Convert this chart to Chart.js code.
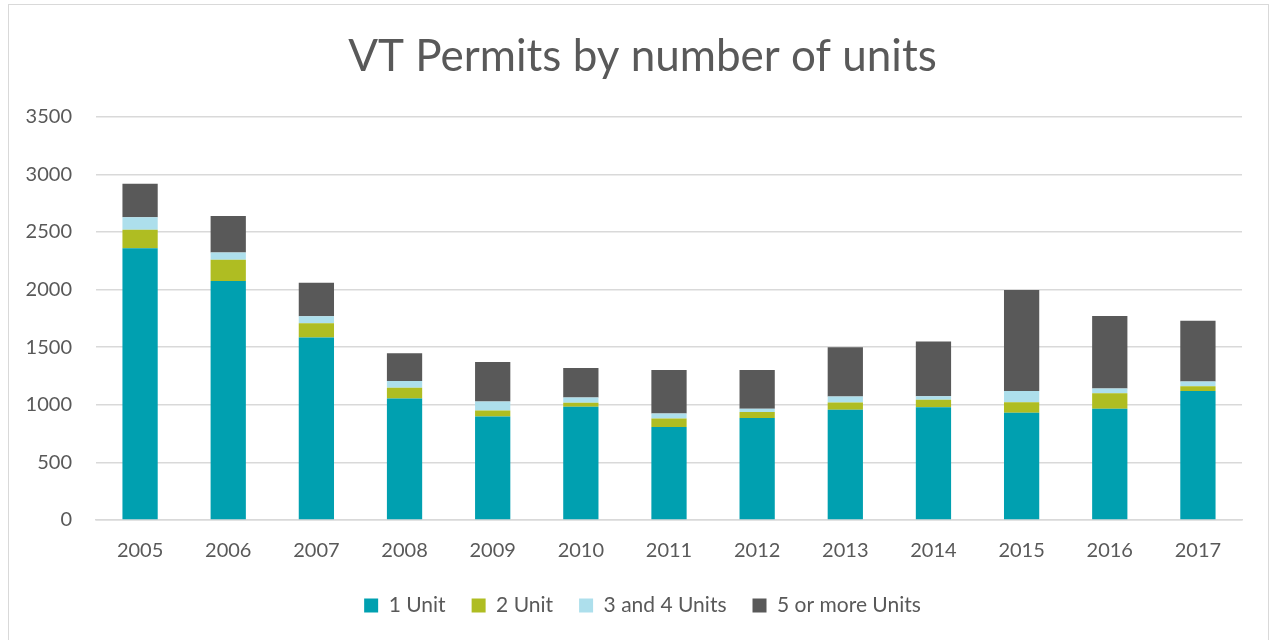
<!DOCTYPE html>
<html>
<head>
<meta charset="utf-8">
<script src="https://cdn.jsdelivr.net/npm/chart.js@4/dist/chart.umd.min.js"></script>
<style>
  html, body { margin: 0; padding: 0; background: #ffffff; overflow: hidden; }
  #frame { position: absolute; left: 8px; top: 4px; width: 1261px; height: 660px; border: 1.5px solid #d9d9d9; box-sizing: border-box; pointer-events: none; }
  canvas { display: block; position: absolute; left: 0; top: 0; }
</style>
</head>
<body>
<canvas id="c" width="1275" height="640"></canvas>
<div id="frame"></div>
<script>
// VT building permits by number of units in the structure
const years = ['2005','2006','2007','2008','2009','2010','2011','2012','2013','2014','2015','2016','2017'];
const oneUnit   = [2360, 2075, 1585, 1055, 898, 982, 808, 886, 956, 979, 930, 965, 1119];
const twoUnit   = [160, 184, 122, 93, 52, 35, 73, 52, 64, 64, 93, 136, 43];
const threeFour = [107, 64, 61, 58, 79, 47, 43, 27, 53, 32, 96, 41, 41];
const fivePlus  = [292, 315, 292, 241, 343, 255, 378, 337, 427, 474, 878, 628, 526];
const yTicks = [0, 500, 1000, 1500, 2000, 2500, 3000, 3500];

const textColor = '#595959';
const fontFamily = 'Lato, "Open Sans", sans-serif';

new Chart(document.getElementById('c'), {
  type: 'bar',
  data: {
    labels: years,
    datasets: [
      { label: '1 Unit', data: oneUnit, backgroundColor: '#00A0B0' },
      { label: '2 Unit', data: twoUnit, backgroundColor: '#AFBD22' },
      { label: '3 and 4 Units', data: threeFour, backgroundColor: '#ADDFEC' },
      { label: '5 or more Units', data: fivePlus, backgroundColor: '#595959' }
    ]
  },
  options: {
    responsive: false,
    animation: false,
    layout: { padding: { left: 16, right: 6, top: 0, bottom: 14 } },
    datasets: { bar: { categoryPercentage: 1.0, barPercentage: 0.4 } },
    plugins: {
      title: {
        display: true,
        text: 'VT Permits by number of units',
        color: textColor,
        font: { family: fontFamily, size: 44, weight: 'normal' },
        padding: { top: 30, bottom: 34 }
      },
      legend: {
        position: 'bottom',
        labels: {
          color: textColor,
          font: { family: fontFamily, size: 21 },
          boxWidth: 14,
          boxHeight: 14,
          padding: 26
        }
      },
      tooltip: { enabled: false }
    },
    scales: {
      x: {
        stacked: true,
        grid: { display: false },
        border: { color: '#d9d9d9', width: 1.5 },
        ticks: { color: textColor, font: { family: fontFamily, size: 20 }, padding: 11 },
        afterFit: (axis) => { axis.height = 49; }
      },
      y: {
        stacked: true,
        min: 0,
        max: 3500,
        afterBuildTicks: (axis) => { axis.ticks = yTicks.map(v => ({ value: v })); },
        afterFit: (axis) => { axis.width = 80; },
        grid: { color: '#d9d9d9', lineWidth: 1.5, drawTicks: false },
        border: { display: false },
        ticks: {
          color: textColor,
          font: { family: fontFamily, size: 20 },
          padding: 24,
          callback: (v) => String(v)
        }
      },
      // empty right-hand margin so the plot ends short of the frame
      gutter: {
        type: 'linear',
        position: 'right',
        display: true,
        grid: { display: false, drawOnChartArea: false },
        border: { display: false },
        ticks: { display: false },
        afterFit: (axis) => { axis.width = 27; }
      }
    }
  }
});
</script>
</body>
</html>
